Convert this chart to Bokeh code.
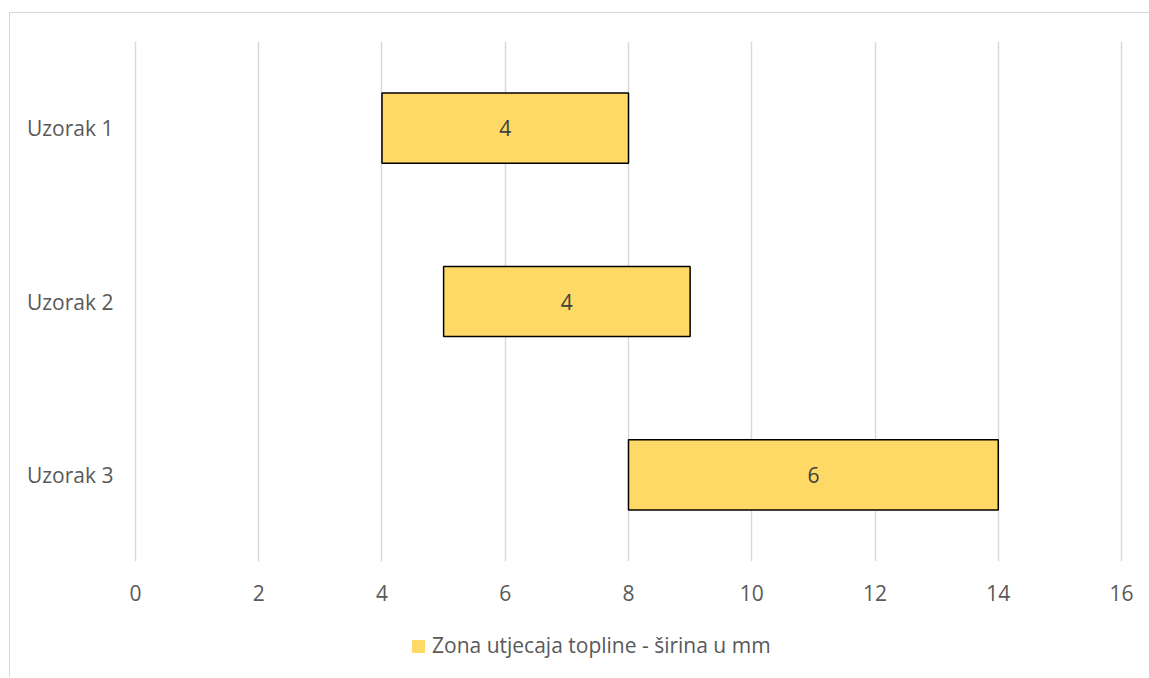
from bokeh.plotting import figure
from bokeh.models import ColumnDataSource, FactorRange, FixedTicker, Div
from bokeh.layouts import column
from bokeh.core.properties import value
from bokeh.embed import file_html
from bokeh.resources import INLINE

categories = ["Uzorak 1", "Uzorak 2", "Uzorak 3"]
starts = [4, 5, 8]
widths = [4, 4, 6]
series_name = "Zona utjecaja topline - širina u mm"
series_color = "#FFD966"
x_ticks = [0, 2, 4, 6, 8, 10, 12, 14, 16]

FONT = "Open Sans"
TEXT = "#595959"
FS = "21px"

ends = [s + w for s, w in zip(starts, widths)]
mids = [s + w / 2 for s, w in zip(starts, widths)]
src = ColumnDataSource(dict(cat=categories, start=starts, end=ends, mid=mids,
                            lab=[str(w) for w in widths]))

p = figure(frame_width=989, frame_height=519, output_backend="svg", toolbar_location=None,
           y_range=FactorRange(factors=list(reversed(categories))),
           x_range=(-0.032, 16.032), margin=(12, 0, 0, 9),
           min_border_left=123, min_border_right=27, min_border_top=28, min_border_bottom=60)
p.styles = {"border-top": "1px solid #d9d9d9", "border-left": "1px solid #d9d9d9"}
p.outline_line_color = None

p.hbar(y="cat", left="start", right="end", height=0.405, source=src,
       fill_color=series_color, line_color="black", line_width=1.5)
p.text(x="mid", y="cat", text="lab", source=src, text_align="center",
       text_baseline="middle", text_font=value(FONT), text_font_size=FS,
       text_color="#404040")

p.xaxis.ticker = FixedTicker(ticks=x_ticks)
p.xgrid.ticker = FixedTicker(ticks=x_ticks)
p.xgrid.grid_line_color = "#d9d9d9"
p.xgrid.grid_line_width = 1.5
p.ygrid.grid_line_color = None

for ax in (p.xaxis, p.yaxis):
    ax.axis_line_color = None
    ax.major_tick_line_color = None
    ax.minor_tick_line_color = None
    ax.major_tick_out = 0
    ax.major_tick_in = 0
    ax.major_label_text_font = FONT
    ax.major_label_text_font_size = FS
    ax.major_label_text_color = TEXT
p.xaxis.major_label_standoff = 23
p.yaxis.major_label_standoff = 20

legend_html = (
    f'<div style="padding-left:402px;padding-top:12px;font-family:\'{FONT}\';'
    f'font-size:{FS};line-height:27px;color:{TEXT};white-space:nowrap;">'
    f'<span style="display:inline-block;width:13px;height:13px;background:{series_color};'
    f'margin-right:7px;vertical-align:middle;position:relative;top:-1px;"></span>'
    f'{series_name}</div>'
)
legend_div = Div(text=legend_html, width=1139, height=57, margin=(0, 0, 0, 9),
                 styles={"border-left": "1px solid #d9d9d9"})

layout = column(p, legend_div, spacing=0)

open("out.html", "w").write(file_html(layout, INLINE))
